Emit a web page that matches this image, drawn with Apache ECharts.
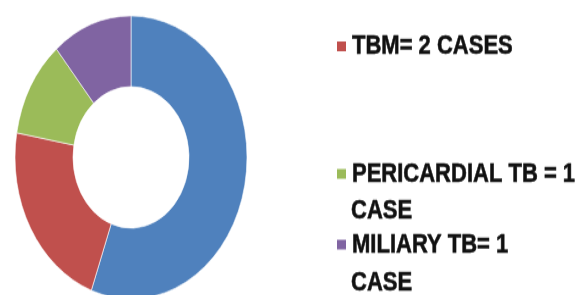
<!DOCTYPE html>
<html>
<head>
<meta charset="utf-8">
<script src="https://cdn.jsdelivr.net/npm/echarts@6/dist/echarts.min.js"></script>
<style>
	html, body { margin: 0; padding: 0; background: #fff; }
	#wrap { width: 579px; height: 295px; overflow: hidden; }
	/* 原图被纵向拉伸，用 scaleY 还原 */
	#chart { width: 579px; height: 242px; transform: scaleY(1.22); transform-origin: 0 0; }
</style>
</head>
<body>
<div id="wrap"><div id="chart"></div></div>
<script>
	//扇区（病例数）
	var names  = ['OTHER TB', 'TBM', 'PERICARDIAL TB', 'MILIARY TB'];
	var cases  = [5, 2, 1, 1];
	var colors = ['#4f81bd', '#c0504d', '#9bbb59', '#8064a2'];

	//图例文字（第一行 / 第二行），蓝色一项在原图中被裁掉
	var legendLines1 = ['TBM= 2 CASES', 'PERICARDIAL TB = 1', 'MILIARY TB= 1'];
	var legendLines2 = ['', 'CASE', 'CASE'];
	var legendTops   = [26, 130.5, 188.5];	//第一行 top（未拉伸坐标）
	var line2Tops    = [0, 160.5, 220];		//第二行 top

	var font = {
		fontFamily: 'Liberation Sans',
		fontWeight: 'bold',
		fontSize: 22,
		lineHeight: 24,
		color: '#111',
		textBorderColor: '#111',
		textBorderWidth: 0.5
	};

	var legends = [], titles = [];

	legendLines1.forEach(function (text, i) {
		legends.push({
			data: [names[i + 1]],
			left: 335,
			top: legendTops[i],
			padding: 0,
			icon: 'rect',
			itemWidth: 11,
			itemHeight: 10,
			itemGap: 0,
			selectedMode: false,
			textStyle: font,
			formatter: function () { return text; }
		});

		if (legendLines2[i]) {
			titles.push({
				text: legendLines2[i],
				left: 351,
				top: line2Tops[i],
				padding: 0,
				textStyle: font
			});
		}
	});

	var chart = echarts.init(document.getElementById('chart'));

	chart.setOption({
		animation: false,
		color: colors,
		title: titles,
		legend: legends,
		series: [{
			type: 'pie',
			center: [131, 129],
			radius: [58, 116],
			startAngle: 90,
			clockwise: true,
			label: { show: false },
			labelLine: { show: false },
			silent: true,
			itemStyle: { borderColor: '#fff', borderWidth: 0.6 },
			data: names.map(function (n, i) {
				return { name: n, value: cases[i] };
			})
		}]
	});
</script>
</body>
</html>
